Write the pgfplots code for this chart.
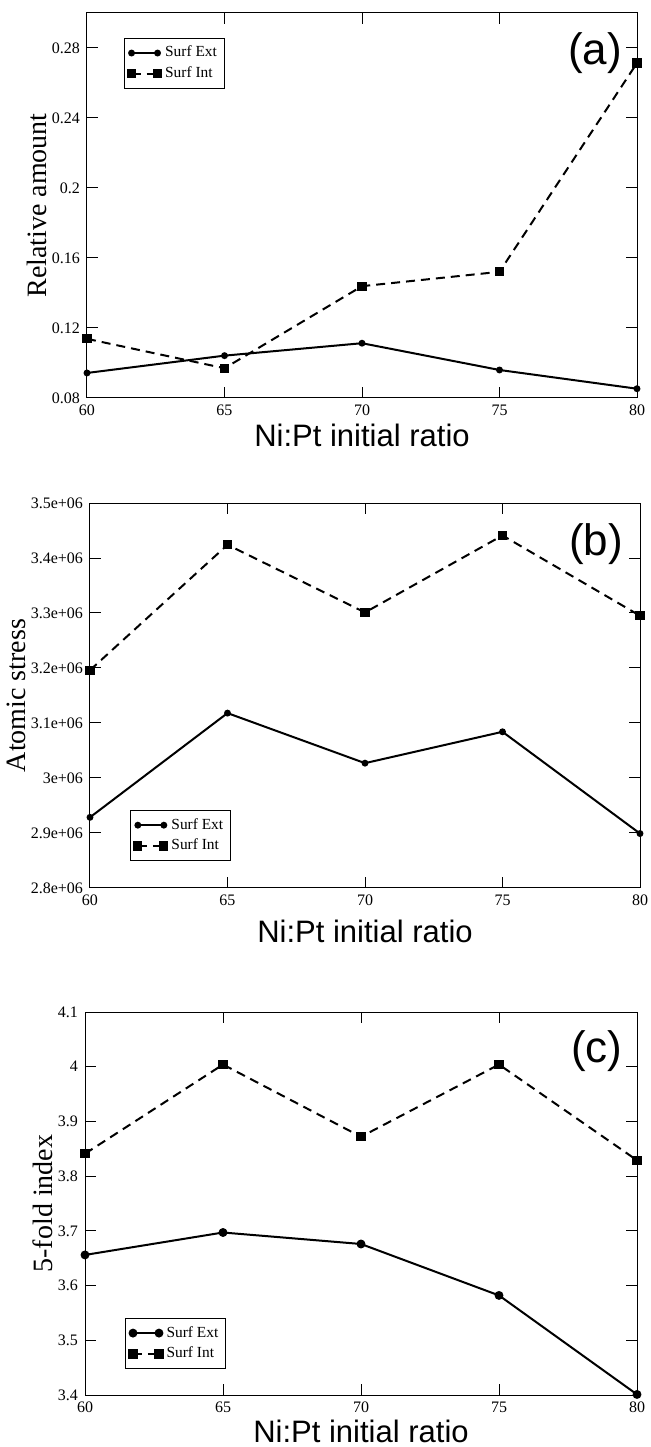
\documentclass[border=0pt]{standalone}
\usepackage{fontspec}
\setmainfont{Liberation Serif}
\newfontfamily\arial{Liberation Sans}
\usepackage{pgfplots}
\pgfplotsset{compat=1.18}

\tikzset{tag/.style={font=\arial\fontsize{22}{24}\selectfont, anchor=center}}
\pgfplotsset{
  panel/.style={
    scale only axis, width=275pt, height=192.5pt,
    xmin=60, xmax=80, xtick={60,65,70,75,80},
    xticklabels={60,65,70,75,80},
    tick align=inside, major tick length=5.5pt,
    tick style={black, line width=0.5pt},
    axis line style={line width=0.5pt},
    scaled y ticks=false, scaled x ticks=false,
    ticklabel style={font=\fontsize{8}{9}\selectfont},
    ylabel style={font=\fontsize{14}{16}\selectfont, anchor=base, rotate=0},
    xlabel={\arial\fontsize{15.5}{18}\selectfont Ni:Pt initial ratio},
    legend cell align=left,
    legend style={font=\fontsize{7.7}{9}\selectfont, draw=black, line width=0.5pt,
      inner sep=1.8pt, row sep=-0.5pt},
    legend image code/.code={\draw plot coordinates {(0pt,0pt) (13pt,0pt)};},
  },
  ext/.style={black, line width=1pt, mark=*, mark size=1.2pt},
  int/.style={black, line width=1pt, dash pattern=on 4.5pt off 3pt,
    mark=square*, mark size=1.8pt, mark options={solid}},
}

\begin{document}
\begin{tikzpicture}
\path[use as bounding box] (0pt,0pt) rectangle (325pt,723.5pt);

% (a)
\begin{axis}[panel, at={(43.5pt,524.5pt)}, anchor=south west,
  ymin=0.08, ymax=0.30, ytick={0.08,0.12,0.16,0.2,0.24,0.28},
  yticklabels={0.08,0.12,0.16,0.2,0.24,0.28},
  ylabel={Relative amount},
  ylabel style={at={(axis description cs:-0.074,0.5)}},
  xlabel style={at={(axis description cs:0.5,0)}, anchor=base, yshift=-24.5pt},
  legend style={at={(axis description cs:0.067,0.935)}, anchor=north west}]
\addplot[ext] coordinates {(60,0.0943) (65,0.1042) (70,0.1113) (75,0.0960) (80,0.0853)};
\addlegendentry{Surf Ext}
\addplot[int] coordinates {(60,0.1138) (65,0.0970) (70,0.1439) (75,0.1521) (80,0.2714)};
\addlegendentry{Surf Int}
\node[tag] at (rel axis cs:0.924,0.896) {(a)};
\end{axis}

% (b)
\begin{axis}[panel, at={(45pt,279.5pt)}, anchor=south west,
  ymin=2.8e6, ymax=3.5e6, ytick={2.8e6,2.9e6,3.0e6,3.1e6,3.2e6,3.3e6,3.4e6,3.5e6},
  yticklabels={2.8e+06,2.9e+06,3e+06,3.1e+06,3.2e+06,3.3e+06,3.4e+06,3.5e+06},
  ylabel={Atomic stress},
  ylabel style={at={(axis description cs:-0.117,0.5)}},
  xlabel style={at={(axis description cs:0.5,0)}, anchor=base, yshift=-27.5pt},
  legend style={at={(axis description cs:0.073,0.07)}, anchor=south west}]
\addplot[ext] coordinates {(60,2.9285e6) (65,3.118e6) (70,3.027e6) (75,3.084e6) (80,2.899e6)};
\addlegendentry{Surf Ext}
\addplot[int] coordinates {(60,3.196e6) (65,3.424e6) (70,3.301e6) (75,3.441e6) (80,3.295e6)};
\addlegendentry{Surf Int}
\node[tag] at (rel axis cs:0.92,0.893) {(b)};
\end{axis}

% (c)
\begin{axis}[panel, at={(42.5pt,26pt)}, anchor=south west, height=191.5pt, width=276pt,
  ymin=3.4, ymax=4.1, ytick={3.4,3.5,3.6,3.7,3.8,3.9,4,4.1},
  yticklabels={3.4,3.5,3.6,3.7,3.8,3.9,4,4.1},
  ylabel={5-fold index},
  ylabel style={at={(axis description cs:-0.058,0.5)}},
  xlabel style={at={(axis description cs:0.5,0)}, anchor=base, yshift=-23.5pt},
  legend style={at={(axis description cs:0.073,0.068)}, anchor=south west}]
\addplot[ext, mark size=1.7pt] coordinates {(60,3.656) (65,3.697) (70,3.676) (75,3.582) (80,3.401)};
\addlegendentry{Surf Ext}
\addplot[int] coordinates {(60,3.841) (65,4.004) (70,3.872) (75,4.004) (80,3.829)};
\addlegendentry{Surf Int}
\node[tag] at (rel axis cs:0.927,0.898) {(c)};
\end{axis}
\end{tikzpicture}
\end{document}
